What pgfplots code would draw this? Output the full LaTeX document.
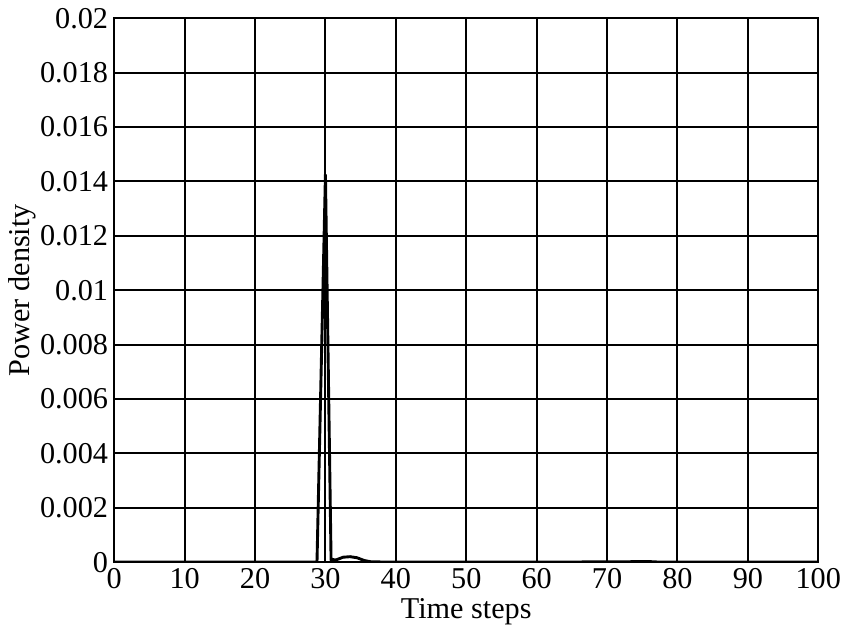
\documentclass[border=0pt]{standalone}
\usepackage{fontspec}
\setmainfont{Liberation Serif}
\usepackage{pgfplots}
\pgfplotsset{compat=1.18}

\begin{document}
\begin{tikzpicture}
\begin{axis}[
    scale only axis,
    width=290bp, height=224bp,
    xmin=0, xmax=100, ymin=0, ymax=0.02,
    xtick={0,10,...,100},
    ytick={0,0.002,...,0.0201},
    scaled y ticks=false,
    yticklabel style={/pgf/number format/fixed, /pgf/number format/precision=3},
    /pgf/number format/assume math mode=true,
    grid=major,
    major grid style={black, line width=0.8pt},
    axis line style={black, line width=0.9pt},
    tick style={draw=none},
    tick label style={font=\fontsize{12.5}{15}\selectfont},
    label style={font=\fontsize{12.5}{15}\selectfont},
    xticklabel style={yshift=1pt},
    yticklabel style={xshift=1pt},
    xlabel={Time steps},
    ylabel={Power density},
    xlabel style={yshift=3pt},
    ylabel style={yshift=-5pt},
]
\addplot[black, line width=1.2pt] coordinates {
(0,0) (28.8,0) (30,0.01426) (30.8,0.0001) (31.5,0.00008) (32.5,0.00018) (33.5,0.0002)
(34.5,0.00016) (35.5,0.00006) (36.5,0.00001) (40,0) (50,0) (60,0) (70,0.00001) (76,0.00002)
(77.5,0) (80,0) (90,0) (100,0)
};
\end{axis}
\end{tikzpicture}
\end{document}
